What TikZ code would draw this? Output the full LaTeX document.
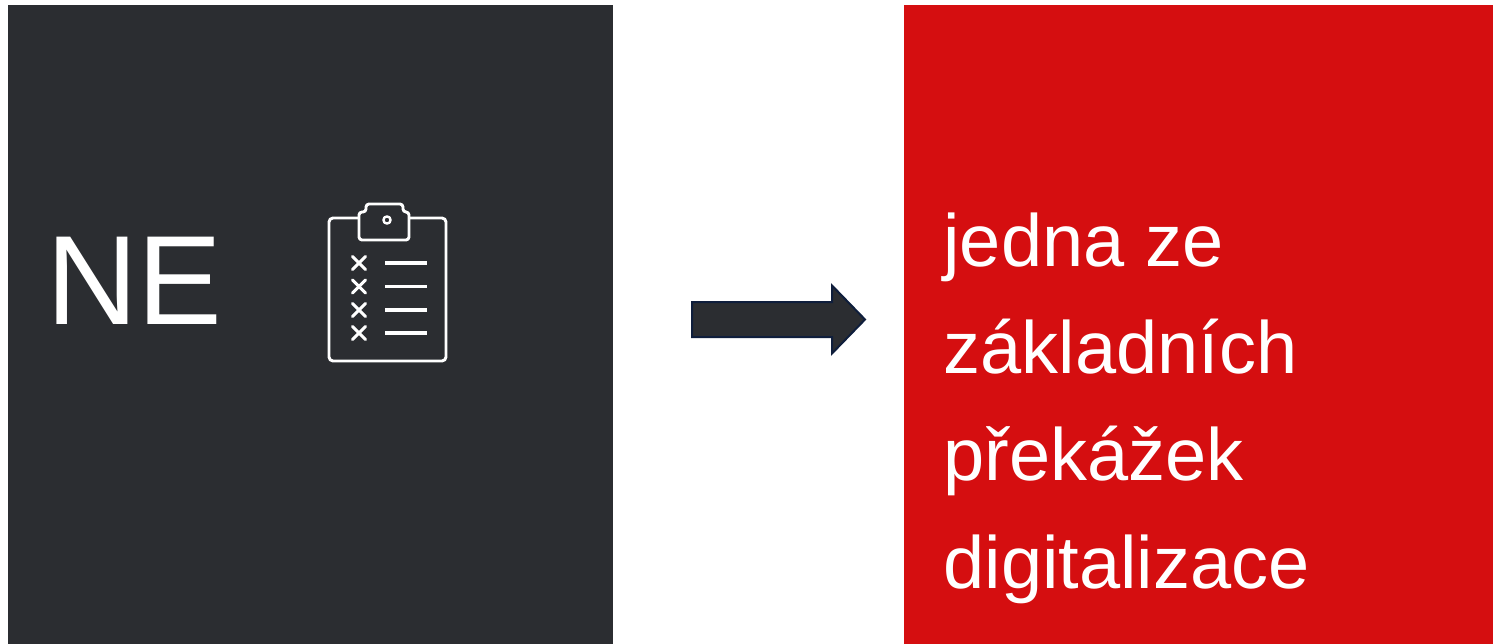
\documentclass[tikz,border=0pt]{standalone}
\usepackage{fontspec}
\setmainfont{Liberation Sans}
\definecolor{darkbg}{HTML}{2B2D31}
\definecolor{redbg}{HTML}{D50E10}
\definecolor{navy}{HTML}{0F1E3C}
\tikzset{
  panel/.style={inner sep=0, outer sep=0, minimum height=639pt},
  icon/.style={white, line width=2.9pt, line cap=round, line join=round},
  bigtext/.style={text=white, inner sep=0, outer sep=0},
}
\begin{document}
\begin{tikzpicture}[x=1pt,y=-1pt]
\useasboundingbox (0,0) rectangle (1493,644);
\fill[white] (0,0) rectangle (1493,644);
% panels
\node[panel, fill=darkbg, minimum width=605pt] (leftpanel) at (310.5,324.5) {};
\node[panel, fill=redbg, minimum width=589pt] (rightpanel) at (1198.5,324.5) {};
% NE
\node[bigtext, anchor=base west, font=\fontsize{127}{127}\selectfont] (ne) at (46,324) {NE};
% clipboard icon
\draw[icon, rounded corners=4pt] (329,218) rectangle (446,361);
\draw[icon, fill=darkbg, rounded corners=3pt]
  (359,240) -- (359,212) -- (366,212) -- (366,204) -- (403,204) -- (403,212) -- (409,212) -- (409,240) -- cycle;
\draw[icon, line width=2.4pt] (387,220) circle (3.6);
\foreach \yy in {263,286.5,310,333}{
  \draw[icon] (352.5,\yy-6.5) -- (365.5,\yy+6.5);
  \draw[icon] (352.5,\yy+6.5) -- (365.5,\yy-6.5);
  \draw[icon, line cap=butt, line width=3.2pt] (385,\yy) -- (427,\yy);
}
% block arrow
\coordinate (arrowtail) at (692,319.5);
\coordinate (arrowtip) at (865,319.5);
\draw[fill=darkbg, draw=navy, line width=2pt, line join=miter]
  (arrowtail) ++(0,-17.5) -- (832,302) -- (832,285.5) -- (arrowtip) -- (832,353.5) -- (832,337) -- (692,337) -- cycle;
% right text
\node[bigtext, anchor=base west, align=left, font=\fontsize{74}{107.3}\selectfont] (txt) at (943.5,588) {jedna ze\\základních\\překážek\\digitalizace};
\end{tikzpicture}
\end{document}
